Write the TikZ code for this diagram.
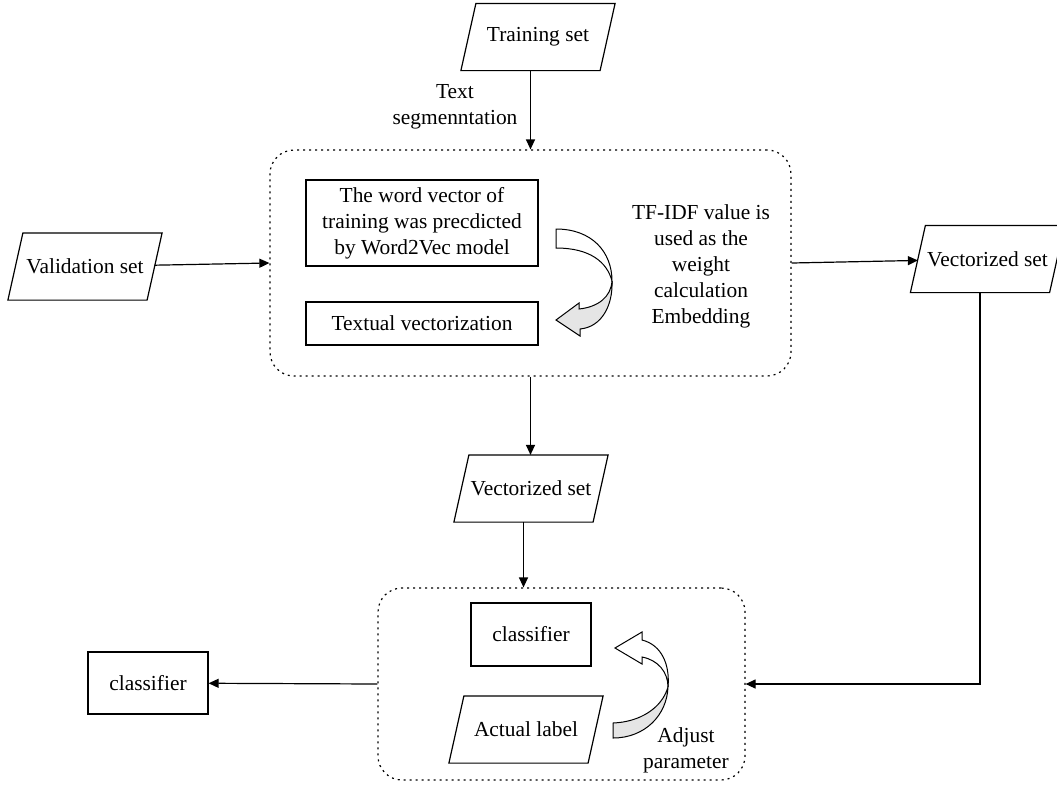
\documentclass[tikz,border=0pt]{standalone}
\usepackage{fontspec}
\setmainfont{Liberation Serif}
\usetikzlibrary{arrows.meta}

\begin{document}
\begin{tikzpicture}[x=0.5pt,y=-0.5pt,
  font=\fontsize{10.7pt}{13pt}\selectfont, line width=0.6pt,
  >={Triangle[length=5pt,width=4.5pt]},
  dataset/.style={minimum width=69pt, minimum height=33pt, inner sep=1pt,
    append after command={\pgfextra{\pgfinterruptpath
      \draw ([xshift=3.75pt]\tikzlastnode.north west) -- ([xshift=3.75pt]\tikzlastnode.north east)
        -- ([xshift=-3.75pt]\tikzlastnode.south east) -- ([xshift=-3.75pt]\tikzlastnode.south west) -- cycle;
      \endpgfinterruptpath}}},
  procbox/.style={draw, minimum width=116pt, inner sep=2pt, align=center},
  stage/.style={draw, dash pattern=on 1pt off 2pt, rounded corners=12pt}]

\useasboundingbox (0,0) rectangle (1057,784);

\node[stage, minimum width=260.5pt, minimum height=113pt] (bigbox) at (530.5,263) {};
\node[stage, minimum width=183.5pt, minimum height=96pt] (botbox) at (561.5,684) {};

\node[dataset] (train) at (538,37) {Training set};
\node[align=center] (seg) at (455,107) {Text\\segmenntation};
\node[procbox, minimum height=43pt] (wordvec) at (422,223) {The word vector of\\training was precdicted\\by Word2Vec model};
\node[procbox, minimum height=21.5pt] (textvec) at (422,323.5) {Textual vectorization};
\node[align=center] (tfidf) at (701,266) {TF-IDF value is\\used as the\\weight\\calculation\\Embedding};
\node[dataset] (valid) at (85,266.5) {Validation set};
\node[dataset] (vecright) at (987.5,259) {Vectorized set};
\node[dataset] (vecmid) at (531,488.5) {Vectorized set};
\node[draw, minimum width=60pt, minimum height=31.5pt] (clsin) at (531,634.5) {classifier};
\node[dataset] (actual) at (526,729.5) {Actual label};
\node[align=center] (adjust) at (686,750) {Adjust\\parameter};
\node[draw, minimum width=60pt, minimum height=31pt] (clsout) at (148,683) {classifier};

\draw[->] ([xshift=-3.75pt]train.south) -- ([xshift=-3.75pt]train.south |- bigbox.north);
\draw[->] (valid) -- (bigbox.west);
\draw[->] (bigbox.east) -- (vecright);
\draw[->] (bigbox.south) -- (bigbox.south |- vecmid.north);
\draw[->] ([xshift=-3.75pt]vecmid.south) -- ([xshift=-3.75pt]vecmid.south |- botbox.north);
\draw[->] (botbox.west) -- (clsout);
\draw[->] ([xshift=-3.75pt]vecright.south) |- (botbox.east);

\draw[line width=0.5pt, fill=white] (556,229) .. controls (592,229) and (612,252) .. (612,281)
  .. controls (607,262) and (590,248) .. (556,248) -- cycle;
\draw[line width=0.5pt, fill=gray!20] (612,281) .. controls (611,297) and (598,307) .. (579,309)
  -- (579,303) -- (556,320) -- (580,336) -- (580,329)
  .. controls (602,327) and (613,305) .. (612,281) -- cycle;

\draw[line width=0.5pt, fill=gray!20] (613,723) .. controls (640,722) and (662,708) .. (668,687)
  .. controls (667,715) and (645,738) .. (613,738) -- cycle;
\draw[line width=0.5pt, fill=white] (668,687) .. controls (668,672) and (658,660) .. (642,657)
  -- (642,664) -- (615,648) -- (642,632) -- (642,640)
  .. controls (662,645) and (670,665) .. (668,687) -- cycle;

\end{tikzpicture}
\end{document}
